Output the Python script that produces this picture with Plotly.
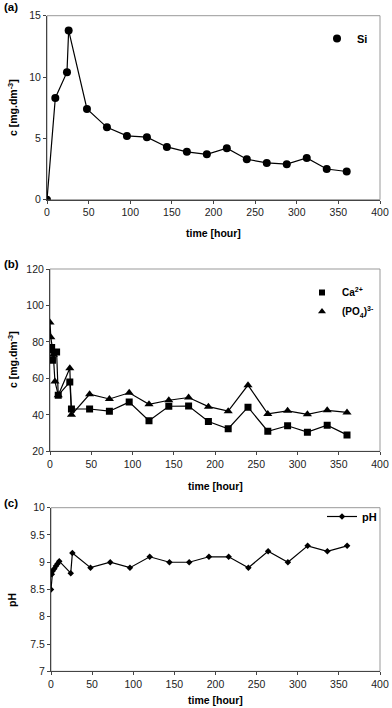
import plotly.graph_objects as go

# panel (a) silicon
si_t = [0, 10, 24, 26, 48, 72, 96, 120, 144, 168, 192, 216, 240, 264, 288, 312, 336, 360]
si_c = [0, 8.3, 10.4, 13.8, 7.4, 5.9, 5.2, 5.1, 4.3, 3.9, 3.7, 4.2, 3.3, 3.0, 2.9, 3.4, 2.5, 2.3]

# panel (b) calcium and phosphate
ca_t = [0, 2, 3, 8, 10, 24, 26, 48, 72, 96, 120, 144, 168, 192, 216, 240, 264, 288, 312, 336, 360]
ca_c = [75.5, 77, 70, 74.5, 50.8, 58, 43.2, 43.2, 42, 47, 36.8, 44.7, 44.8, 36.3, 32.4, 44.2, 31, 34, 30.5, 34.3, 29]
po_t = [0, 1, 4, 6, 10, 24, 26, 48, 72, 96, 120, 144, 168, 192, 216, 240, 264, 288, 312, 336, 360]
po_c = [90.6, 82.5, 73, 58.3, 50.8, 65.5, 40, 51.3, 48.7, 52.1, 45.8, 48, 49.5, 44.5, 42, 56.3, 40.5, 42.2, 40.3, 42.5, 41.3]

# panel (c) pH
ph_t = [0, 1, 2, 4, 6, 8, 10, 24, 26, 48, 72, 96, 120, 144, 168, 192, 216, 240, 264, 288, 312, 336, 360]
ph_v = [8.5, 8.78, 8.84, 8.88, 8.93, 8.97, 9.02, 8.8, 9.17, 8.9, 9.0, 8.9, 9.1, 9.0, 9.0, 9.1, 9.1, 8.9, 9.2, 9.0, 9.3, 9.2, 9.3]

W, H = 392, 708
FONT = "Liberation Sans, Arial, sans-serif"


def px(v):
    return v / W


def py(v):
    return 1 - v / H


fig = go.Figure()
line = dict(color="black", width=1.2)

fig.add_trace(go.Scatter(x=si_t, y=si_c, mode="lines", line=line, xaxis="x", yaxis="y",
                         showlegend=False))
fig.add_trace(go.Scatter(x=si_t, y=si_c, mode="markers", name="<b>Si</b>", xaxis="x", yaxis="y",
                         marker=dict(symbol="circle", size=8, color="black"), legend="legend"))

fig.add_trace(go.Scatter(x=po_t, y=po_c, mode="lines+markers", line=line,
                         marker=dict(symbol="triangle-up", size=8, color="black"),
                         xaxis="x2", yaxis="y2", showlegend=False))
fig.add_trace(go.Scatter(x=ca_t, y=ca_c, mode="lines+markers", line=line,
                         marker=dict(symbol="square", size=7, color="black"),
                         xaxis="x2", yaxis="y2", showlegend=False))
fig.add_trace(go.Scatter(x=[None], y=[None], mode="markers", name="<b>Ca<sup>2+</sup></b>",
                         marker=dict(symbol="square", size=6, color="black"),
                         xaxis="x2", yaxis="y2", legend="legend2"))
fig.add_trace(go.Scatter(x=[None], y=[None], mode="markers",
                         name="<b>(PO<sub>4</sub>)<sup>3-</sup></b>",
                         marker=dict(symbol="triangle-up", size=7, color="black"),
                         xaxis="x2", yaxis="y2", legend="legend2"))

fig.add_trace(go.Scatter(x=ph_t, y=ph_v, mode="lines+markers", name="<b>pH</b>", line=line,
                         marker=dict(symbol="diamond", size=5, color="black"),
                         xaxis="x3", yaxis="y3", legend="legend3"))

tickfont = dict(family=FONT, size=10.5, color="#222")
xbase = dict(range=[0, 400], dtick=50, showgrid=False, zeroline=False, showline=True,
             linecolor="#444", linewidth=1, ticks="outside", ticklen=3, tickcolor="#444",
             tickfont=tickfont, automargin=False)
ybase = dict(showgrid=False, zeroline=False, showline=True, linecolor="#444", linewidth=1,
             ticks="outside", ticklen=3, tickcolor="#444", tickfont=tickfont, automargin=False)

panels = [
    # x0, x1, ytop, ybottom, yrange, dtick
    (47, 380, 15.7, 199.7, [0, 15], 5),
    (50, 380, 269, 451.3, [20, 120], 20),
    (51, 380, 507.7, 671.3, [7, 10], 0.5),
]

layout = dict(width=W, height=H, margin=dict(l=0, r=0, t=0, b=0),
              paper_bgcolor="white", plot_bgcolor="white",
              font=dict(family=FONT, color="black"))
shapes = []
for i, (x0, x1, yt, yb, yr, dt) in enumerate(panels):
    sfx = "" if i == 0 else str(i + 1)
    layout["xaxis" + sfx] = dict(xbase, domain=[px(x0), px(x1)], anchor="y" + sfx)
    layout["yaxis" + sfx] = dict(ybase, domain=[py(yb), py(yt)], range=yr, dtick=dt,
                                 anchor="x" + sfx)
    shapes.append(dict(type="rect", xref="x%s domain" % sfx, yref="y%s domain" % sfx,
                       x0=0, x1=1, y0=0, y1=1, line=dict(color="#999", width=1),
                       layer="below"))
layout["shapes"] = shapes

leg = dict(bgcolor="rgba(0,0,0,0)", font=dict(family=FONT, size=11, color="black"),
           xanchor="left", yanchor="top", itemwidth=30, tracegroupgap=0)
layout["legend"] = dict(leg, x=px(317), y=py(24))
layout["legend2"] = dict(leg, x=px(302), y=py(278), font=dict(family=FONT, size=10, color="black"))
layout["legend3"] = dict(leg, x=px(322), y=py(502))
fig.update_layout(**layout)

ann = []
tf = dict(family=FONT, size=10.5, color="black")
for txt, x, y in [("<b>(a)</b>", 2, 7), ("<b>(b)</b>", 2, 264), ("<b>(c)</b>", 2, 503)]:
    ann.append(dict(text=txt, x=px(x), y=py(y), xref="paper", yref="paper", showarrow=False,
                    xanchor="left", yanchor="middle", font=dict(family=FONT, size=11.5, color="black")))
for x, y in [(213, 233), (215, 486), (215, 700)]:
    ann.append(dict(text="<b>time [hour]</b>", x=px(x), y=py(y), xref="paper", yref="paper",
                    showarrow=False, xanchor="center", yanchor="middle", font=tf))
for txt, y in [("<b>c [mg.dm<sup>-3</sup>]</b>", 108), ("<b>c [mg.dm<sup>-3</sup>]</b>", 360),
               ("<b>pH</b>", 600)]:
    ann.append(dict(text=txt, x=px(12), y=py(y), xref="paper", yref="paper", showarrow=False,
                    textangle=-90, xanchor="center", yanchor="middle", font=tf))
fig.update_layout(annotations=ann)

# page body has an 8px default margin; drop it so the figure fills the window
fig.write_html("out.html", config={"displayModeBar": False},
               post_script="document.body.style.margin='0';")
